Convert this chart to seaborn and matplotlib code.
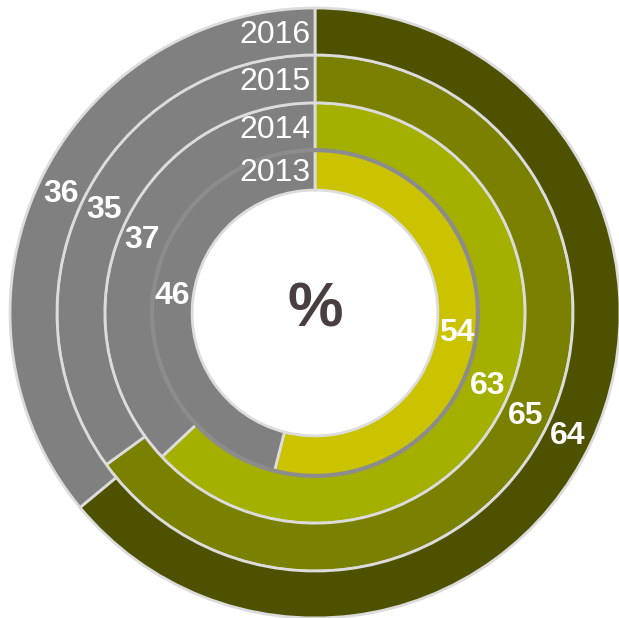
import numpy as np
import matplotlib
matplotlib.use("Agg")
import matplotlib.pyplot as plt
import seaborn as sns

# data: share per year (coloured part), remainder in grey
years = ["2013", "2014", "2015", "2016"]
share = [54, 63, 65, 64]
rest = [46, 37, 35, 36]

ring_colors = ["#CCC300", "#A3B000", "#7A8000", "#4E5200"]
grey = "#808080"

sns.set_theme(style="white")
plt.rcParams["font.family"] = ["Liberation Sans", "DejaVu Sans"]

fig = plt.figure(figsize=(6.19, 6.18), dpi=100)
ax = fig.add_axes([0, 0, 1, 1])

# ring radii (inner to outer), outer radius = 1
edges = [0.403, 0.534, 0.689, 0.846, 1.0]

for i, yr in enumerate(years):
    r_out = edges[i + 1]
    width = r_out - edges[i]
    ax.pie([share[i], rest[i]], radius=r_out, startangle=90, counterclock=False,
           colors=[ring_colors[i], grey],
           wedgeprops=dict(width=width, edgecolor="#dcdcdc", linewidth=2))

# darker line around the 2013 ring
t = np.linspace(0, 2 * np.pi, 400)
ax.plot(edges[1] * np.cos(t), edges[1] * np.sin(t), color="#8c8c8c", lw=3, zorder=5)

# label placement (clockwise degrees from 12 o'clock, radius)
share_lab_angle = [98, 113, 116, 116]
rest_lab_angle = [277, 293, 296, 295]
lab_radius = [0.47, 0.616, 0.77, 0.92]

def polar(a, r):
    th = np.deg2rad(90 - a)
    return r * np.cos(th), r * np.sin(th)

for i in range(len(years)):
    x, y = polar(share_lab_angle[i], lab_radius[i])
    ax.text(x, y, str(share[i]), color="white", fontsize=23, fontweight="bold",
            ha="center", va="center", zorder=6)
    x, y = polar(rest_lab_angle[i], lab_radius[i])
    ax.text(x, y, str(rest[i]), color="white", fontsize=23, fontweight="bold",
            ha="center", va="center", zorder=6)
    # year label next to the 12 o'clock line
    ymid = (edges[i] + edges[i + 1]) / 2 - 0.01
    ax.text(-0.015, ymid, years[i], color="white", fontsize=23,
            ha="right", va="center", zorder=6)

ax.text(0, 0.01, "%", color="#4A3F3F", fontsize=45, fontweight="bold",
        ha="center", va="center")

ax.set_xlim(-315 / 305, (619 - 315) / 305)
ax.set_ylim(-(618 - 313) / 305, 313 / 305)
ax.set_aspect("equal")
ax.axis("off")

fig.savefig("out.png", dpi=100, facecolor="white")
